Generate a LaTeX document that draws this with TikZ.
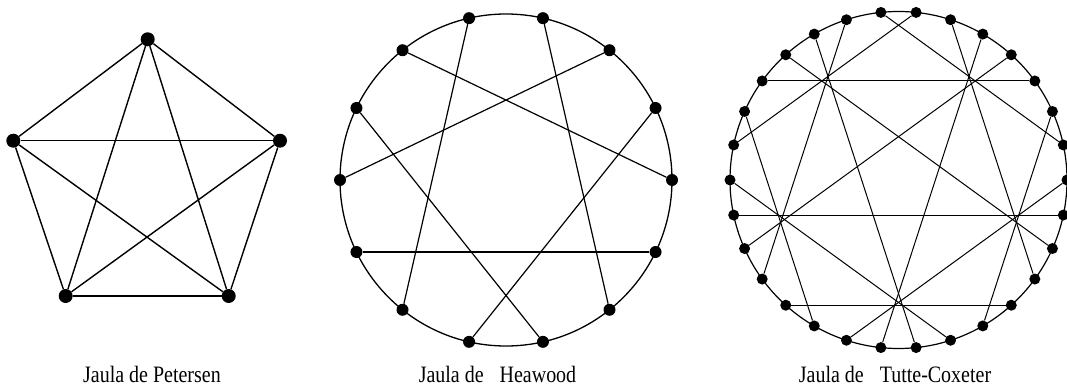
\documentclass[tikz,border=0pt]{standalone}
\usepackage{fontspec}
\setmainfont{Liberation Serif}
\newfontfamily\jaulafont[FakeStretch=0.85]{Liberation Serif}
\usepackage{tikz}
\usetikzlibrary{positioning,calc}

\begin{document}
\begin{tikzpicture}[x=1pt,y=1pt,
  every node/.style={inner sep=0pt},
  sommet/.style={circle,fill=black,minimum size=12pt},
  petit/.style={sommet,minimum size=11pt},
  gros/.style={sommet,minimum size=14pt},
  arete/.style={line width=1.2pt,black},
  grosse/.style={line width=1.4pt,black},
  legende/.style={font=\jaulafont\fontsize{23.5}{28}\selectfont,anchor=base}
]
\useasboundingbox (0,0) rectangle (1067,389);

% Petersen (K5)
\node[gros] (p1) at (147.7,349.7) {};
\node[gros] (p2) at (13.3,248.3) {};
\node[gros] (p3) at (65.7,93) {};
\node[gros] (p4) at (228.7,93) {};
\node[gros] (p5) at (280,248.3) {};
\foreach \a/\b in {1/2,1/3,1/4,1/5,2/3,2/4,2/5,3/4,3/5,4/5}
  \draw[grosse] (p\a) -- (p\b);
\node[legende] (lp) at (152,7) {Jaula de Petersen};

% Heawood
\coordinate (hc) at (506,209);
\draw[arete,line width=1.3pt] (hc) circle (166);
\foreach \k in {0,...,13}
  \node[sommet] (h\k) at ($(hc)+(\k*360/14:166)$) {};
\foreach \a/\b in {0/5,1/10,2/7,3/12,4/9,6/11,8/13}
  \draw[arete] (h\a) -- (h\b);
\node[legende] (lh) at (497.5,7) {Jaula de\hspace{11pt} Heawood};

% Tutte-Coxeter
\coordinate (tc) at (898.5,209);
\draw[arete] (tc) circle (168.5);
\foreach \k in {0,...,29}
  \node[petit] (t\k) at ($(tc)+(\k*12:168.5)$) {};
\foreach \a/\b in {0/21,1/8,2/25,3/12,4/17,5/22,6/27,7/14,9/18,10/23,11/28,13/20,15/24,16/29,19/26}
  \draw[arete,line width=1pt] (t\a) -- (t\b);
\node[legende] (lt) at (895,7) {Jaula de\hspace{11pt} Tutte-Coxeter};
\end{tikzpicture}
\end{document}
